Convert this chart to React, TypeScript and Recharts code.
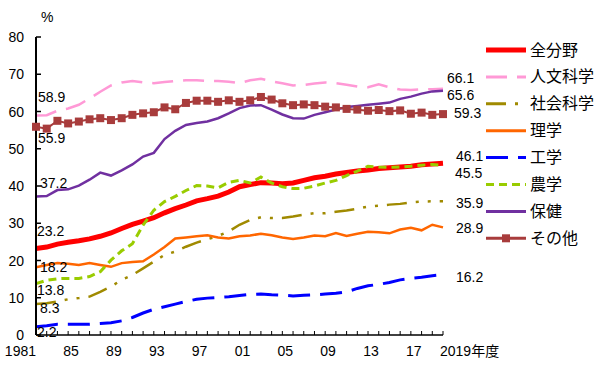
import { LineChart, Line, XAxis, YAxis, Legend } from 'recharts';

const years = [
  1981, 1982, 1983, 1984, 1985, 1986, 1987, 1988, 1989, 1990,
  1991, 1992, 1993, 1994, 1995, 1996, 1997, 1998, 1999, 2000,
  2001, 2002, 2003, 2004, 2005, 2006, 2007, 2008, 2009, 2010,
  2011, 2012, 2013, 2014, 2015, 2016, 2017, 2018, 2019,
];

const allFields = [23.2, 23.6, 24.4, 24.9, 25.3, 25.8, 26.5, 27.4, 28.6, 29.7, 30.6, 31.5, 32.8, 33.9, 34.9, 36.0, 36.6, 37.3, 38.4, 39.8, 40.4, 40.9, 40.8, 40.6, 40.8, 41.5, 42.2, 42.6, 43.2, 43.6, 44.0, 44.3, 44.7, 44.9, 45.1, 45.3, 45.7, 45.9, 46.1];
const humanities = [58.9, 59.0, 60.2, 60.8, 61.8, 63.5, 65.3, 67.0, 67.8, 68.2, 67.8, 67.6, 67.9, 68.2, 68.4, 68.4, 68.2, 68.2, 68.0, 67.6, 68.4, 68.8, 68.1, 67.6, 67.0, 67.1, 67.5, 67.8, 67.6, 67.2, 66.7, 66.5, 67.3, 66.5, 65.9, 65.8, 66.0, 66.0, 66.1];
const social = [8.3, 8.5, 9.0, 9.6, 9.9, 10.3, 11.6, 13.0, 14.8, 16.1, 17.9, 19.7, 21.5, 22.4, 23.7, 24.8, 25.7, 26.6, 27.8, 29.6, 30.9, 31.6, 31.4, 31.4, 31.8, 32.3, 32.7, 32.7, 33.1, 33.4, 33.9, 34.5, 34.7, 35.0, 35.2, 35.6, 35.8, 35.9, 35.9];
const science = [18.2, 18.8, 19.3, 19.1, 18.8, 19.3, 18.8, 18.3, 19.3, 19.6, 19.8, 21.6, 23.6, 25.9, 26.2, 26.5, 26.8, 26.2, 25.9, 26.5, 26.7, 27.2, 26.8, 26.2, 25.8, 26.2, 26.7, 26.5, 27.4, 26.6, 27.2, 27.7, 27.6, 27.3, 28.3, 28.8, 28.1, 29.6, 28.9];
const engineering = [2.2, 2.5, 2.9, 2.9, 2.9, 2.9, 3.1, 3.3, 3.8, 4.7, 5.9, 6.9, 7.6, 8.3, 9.0, 9.6, 9.9, 10.1, 10.3, 10.6, 10.9, 11.0, 10.8, 10.7, 10.5, 10.7, 10.8, 11.0, 11.2, 11.6, 12.5, 13.2, 13.6, 14.1, 14.8, 15.2, 15.5, 15.9, 16.2];
const agriculture = [13.8, 14.7, 15.1, 15.2, 15.2, 15.7, 17.0, 20.1, 22.6, 24.5, 29.5, 33.5, 35.8, 37.2, 38.8, 40.1, 40.0, 39.5, 41.0, 41.5, 40.8, 42.4, 40.8, 39.8, 39.3, 39.4, 40.0, 40.8, 41.5, 42.8, 44.0, 45.3, 45.1, 45.0, 45.1, 45.3, 45.6, 45.8, 45.5];
const health = [37.2, 37.3, 38.9, 39.1, 40.1, 41.7, 43.6, 42.8, 44.2, 45.8, 47.9, 48.9, 52.6, 54.8, 56.4, 56.9, 57.3, 58.2, 59.5, 60.9, 61.6, 61.7, 60.5, 59.2, 58.2, 58.1, 59.1, 59.8, 60.5, 61.2, 61.5, 61.8, 62.1, 62.4, 63.4, 64.0, 64.8, 65.4, 65.6];
const others = [55.9, 55.4, 57.5, 56.8, 57.3, 57.9, 58.2, 57.7, 58.2, 59.1, 59.5, 59.8, 61.1, 60.6, 62.3, 62.9, 62.9, 62.6, 63.0, 62.6, 63.0, 63.9, 63.2, 62.2, 61.7, 61.9, 61.7, 61.3, 61.1, 60.7, 60.5, 60.2, 60.4, 60.1, 60.3, 59.4, 59.7, 59.1, 59.3];

const xLabelYears = [1981, 1985, 1989, 1993, 1997, 2001, 2005, 2009, 2013, 2017, 2019];
const xLabels = ['1981', '85', '89', '93', '97', '01', '05', '09', '13', '17', '2019年度'];
const yTicks = [0, 10, 20, 30, 40, 50, 60, 70, 80];

const FONT = '"Liberation Sans", Arial, "Noto Sans CJK JP", sans-serif';

// style + label offsets per series (start label / end label)
const series = [
  { key: 'all', name: '全分野', values: allFields, color: '#FF0000', width: 5, dash: undefined, sdx: 1, sdy: -18, edx: 13, edy: -7 },
  { key: 'hum', name: '人文科学', values: humanities, color: '#FF99D6', width: 2.5, dash: '21 10', sdx: 2, sdy: -19, edx: 4, edy: -11 },
  { key: 'soc', name: '社会科学', values: social, color: '#A08A00', width: 2.5, dash: '20 9 3 9 3 9', sdx: 4, sdy: 4, edx: 13, edy: 2 },
  { key: 'sci', name: '理学', values: science, color: '#FF6600', width: 2.5, dash: undefined, sdx: 4, sdy: 0, edx: 13, edy: 1 },
  { key: 'eng', name: '工学', values: engineering, color: '#0000FF', width: 3, dash: '22 10', sdx: 1, sdy: 5, edx: 13, edy: 2 },
  { key: 'agr', name: '農学', values: agriculture, color: '#99CC00', width: 3, dash: '8 5', sdx: 1, sdy: 6, edx: 12, edy: 7 },
  { key: 'hea', name: '保健', values: health, color: '#7030A0', width: 2.5, dash: undefined, sdx: 4, sdy: -13, edx: 4, edy: 4 },
  { key: 'oth', name: 'その他', values: others, color: '#A83C3C', width: 2, dash: undefined, marker: true, sdx: 2, sdy: 11, edx: 11, edy: -1 },
];

const data = years.map((year, i) => {
  const row: Record<string, number> = { year };
  series.forEach((s) => {
    row[s.key] = s.values[i];
  });
  return row;
});

const makeDot = (s: any) => (p: any) => {
  const { cx, cy, index } = p;
  const v = p.payload[s.key];
  const last = index === years.length - 1;
  return (
    <g key={`${s.key}-${index}`}>
      {s.marker && <rect x={cx - 4} y={cy - 4} width={8} height={8} fill={s.color} />}
      {index === 0 && (
        <text x={cx + s.sdx} y={cy + s.sdy} dominantBaseline="central" fontSize={14} fontFamily={FONT} fill="#000">
          {v.toFixed(1)}
        </text>
      )}
      {last && (
        <text x={cx + s.edx} y={cy + s.edy} dominantBaseline="central" fontSize={14} fontFamily={FONT} fill="#000">
          {v.toFixed(1)}
        </text>
      )}
    </g>
  );
};

const XTick = (p: any) => {
  const { x, y, payload } = p;
  const idx = xLabelYears.indexOf(payload.value);
  const isLast = idx === xLabels.length - 1;
  return (
    <g>
      <line x1={x} x2={x} y1={y} y2={y - 4} stroke="#000" strokeWidth={1} />
      {idx >= 0 && (
        <text
          x={isLast ? x - 3 : x}
          y={y + 16}
          textAnchor={isLast ? 'start' : 'end'}
          dominantBaseline="central"
          fontSize={14}
          fontFamily={FONT}
          fill="#000"
        >
          {xLabels[idx]}
        </text>
      )}
    </g>
  );
};

const YTick = (p: any) => {
  const { x, y, payload } = p;
  return (
    <g>
      <line x1={x} x2={x + 5} y1={y} y2={y} stroke="#000" strokeWidth={1.5} />
      <text x={x - 12} y={y} textAnchor="end" dominantBaseline="central" fontSize={14} fontFamily={FONT} fill="#000">
        {payload.value}
      </text>
    </g>
  );
};

const renderLegend = () => (
  <svg width={114} height={216}>
    {series.map((s, i) => {
      const y = 12 + i * 26.9;
      return (
        <g key={s.key}>
          <line x1={0} x2={40} y1={y} y2={y} stroke={s.color} strokeWidth={s.key === 'all' ? 5 : 3} strokeDasharray={s.dash} />
          {s.marker && <rect x={16} y={y - 4} width={8} height={8} fill={s.color} />}
          <text x={44} y={y} dominantBaseline="central" fontSize={16} fontFamily={FONT} fill="#000">
            {s.name}
          </text>
        </g>
      );
    })}
  </svg>
);

export default function App() {
  return (
    <div style={{ position: 'absolute', left: 0, top: 0, width: 600, height: 369, background: '#fff', fontFamily: FONT }}>
      <span style={{ position: 'absolute', left: 41, top: 8, fontSize: 14, lineHeight: '18px' }}>%</span>
      <LineChart width={600} height={369} data={data} margin={{ top: 37, right: 157, bottom: 4, left: 0 }}>
        <XAxis
          dataKey="year"
          type="number"
          domain={[1981, 2019]}
          ticks={years}
          interval={0}
          height={30}
          tickSize={0}
          tickMargin={0}
          tickLine={false}
          tick={<XTick />}
          axisLine={{ stroke: '#000', strokeWidth: 1.5 }}
        />
        <YAxis
          type="number"
          domain={[0, 80]}
          ticks={yTicks}
          interval={0}
          width={36}
          tickSize={0}
          tickMargin={0}
          tickLine={false}
          tick={<YTick />}
          axisLine={{ stroke: '#000', strokeWidth: 2 }}
        />
        <Legend
          layout="vertical"
          align="center"
          verticalAlign="middle"
          content={renderLegend}
          wrapperStyle={{ left: 486, top: 38, width: 114, height: 216 }}
        />
        {series.map((s) => (
          <Line
            key={s.key}
            dataKey={s.key}
            name={s.name}
            type="linear"
            stroke={s.color}
            strokeWidth={s.width}
            strokeDasharray={s.dash}
            dot={makeDot(s)}
            activeDot={false}
            isAnimationActive={false}
          />
        ))}
      </LineChart>
    </div>
  );
}
